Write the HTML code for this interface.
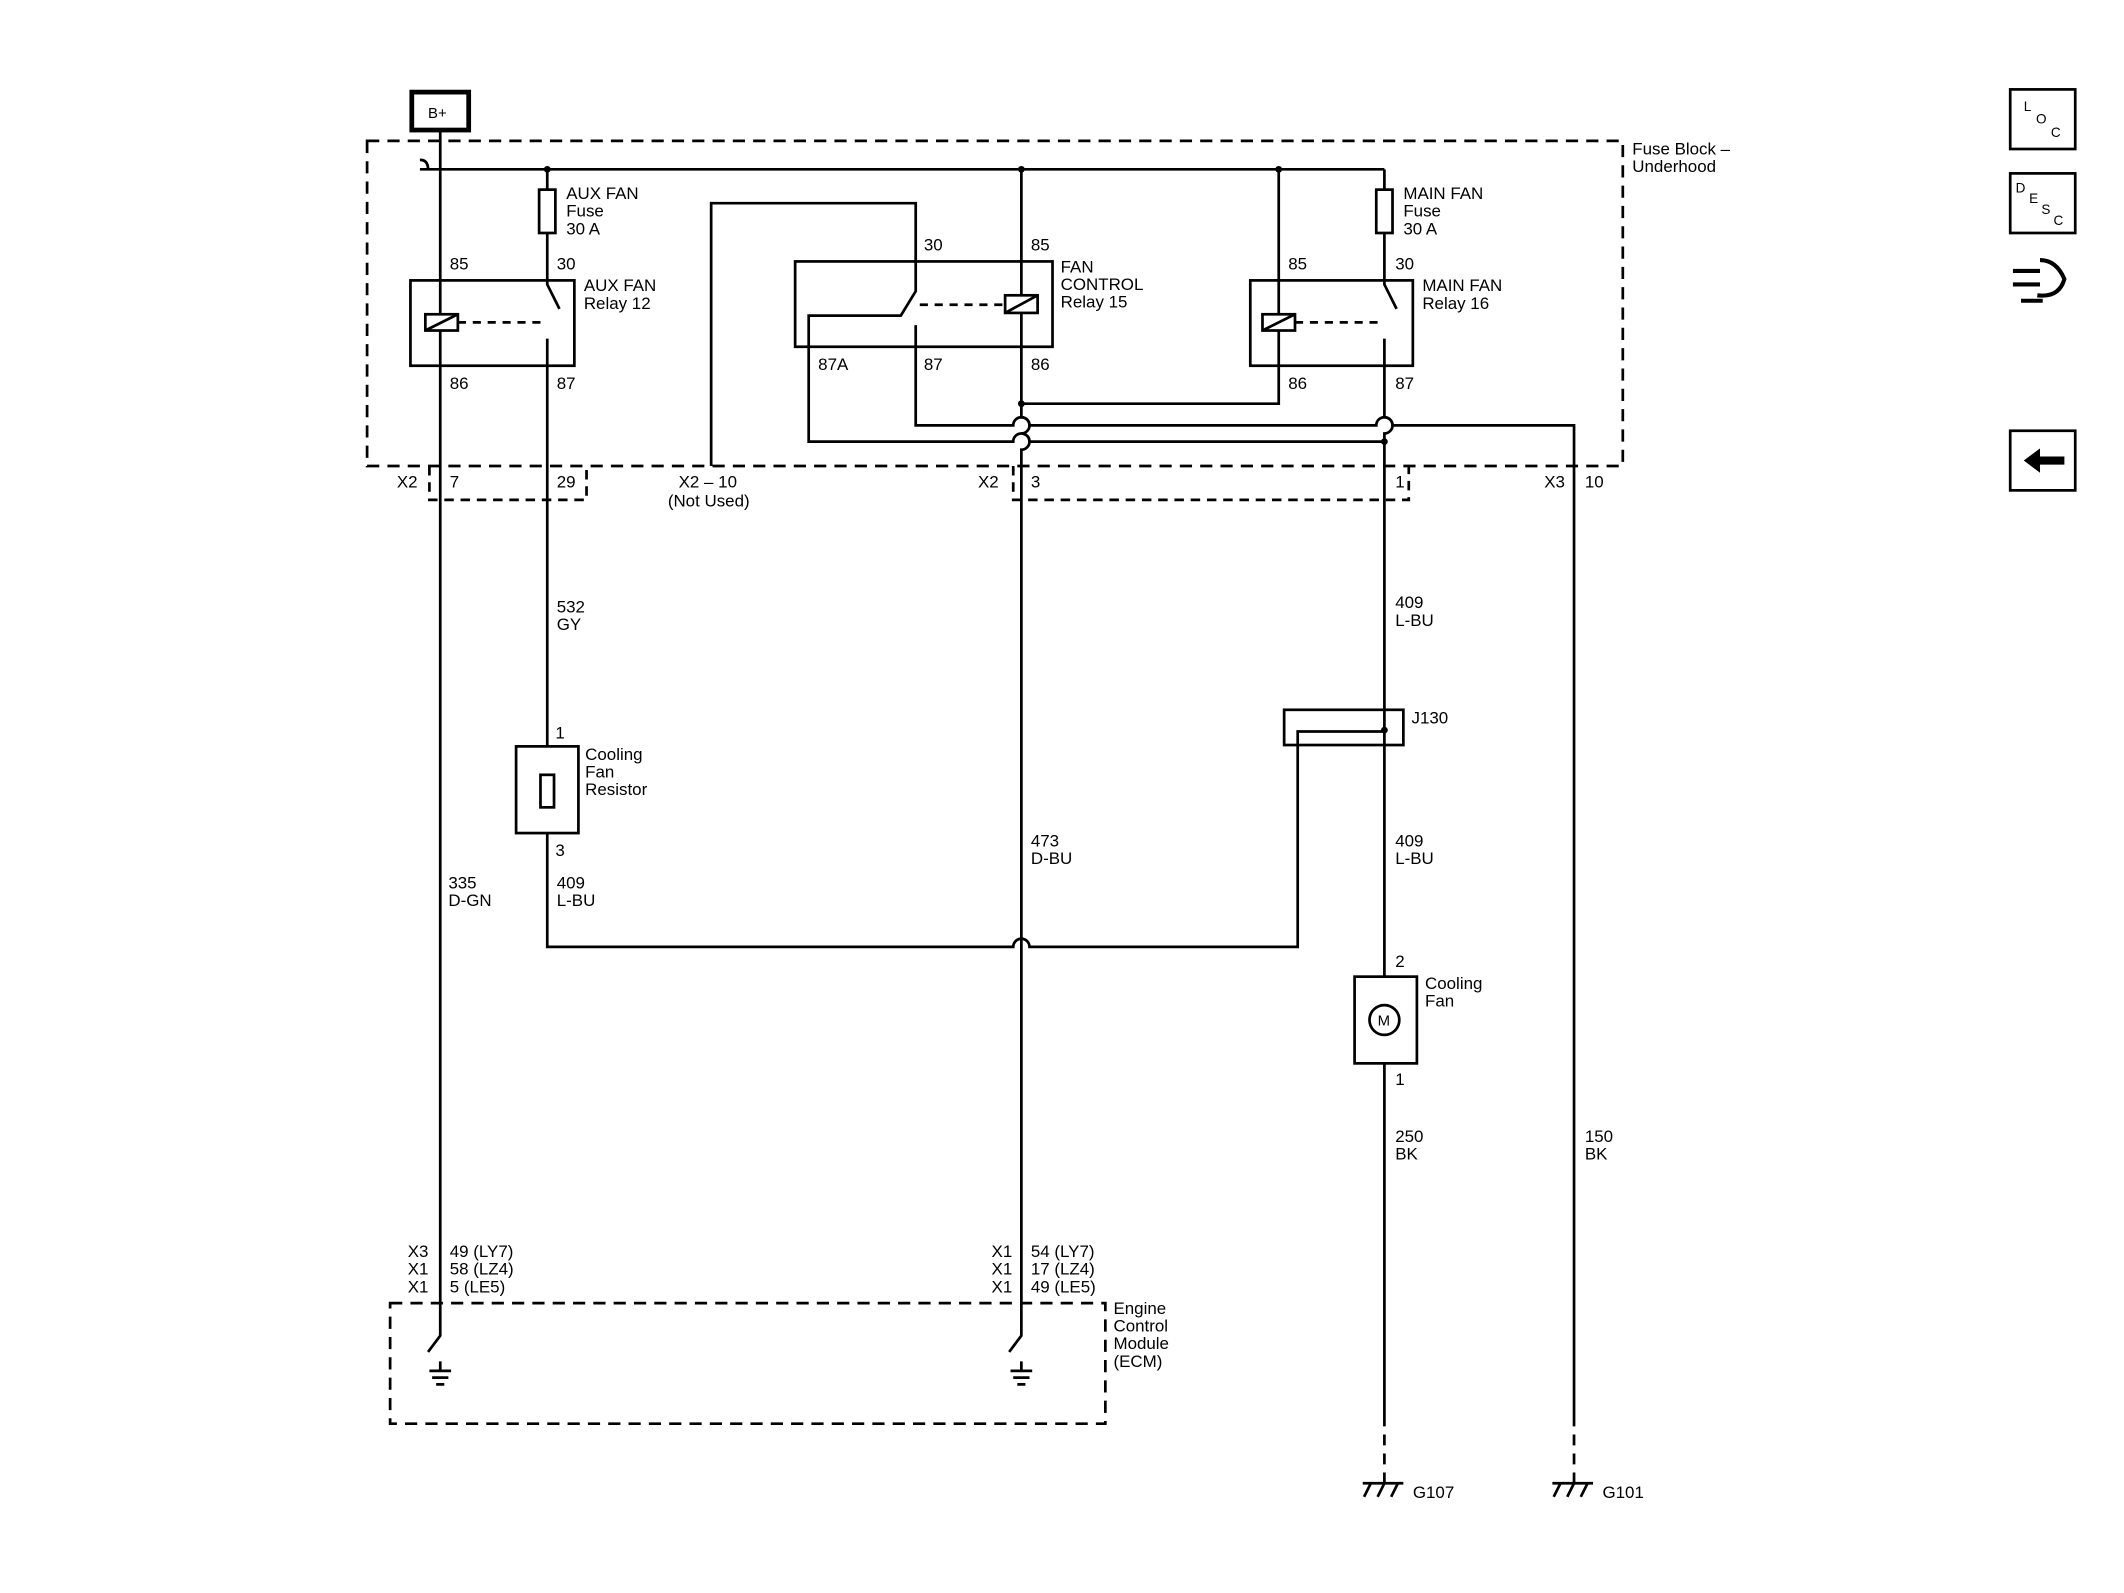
<!DOCTYPE html>
<html><head><meta charset="utf-8"><style>
html,body{margin:0;padding:0;background:#fff}
svg{display:block}
text{font-family:"Liberation Sans",sans-serif;font-size:12.5px;fill:#000}
</style></head><body>
<svg width="2124" height="1593" viewBox="0 0 1568 1176" preserveAspectRatio="none" xmlns="http://www.w3.org/2000/svg">
<g fill="none" stroke="#000" stroke-width="2">
<rect x="304" y="68" width="42" height="28" stroke-width="3.5"/>
<rect x="271" y="104" width="927" height="240" stroke-dasharray="9,6"/>
<path d="M310 125 H1022"/>
<path d="M310 118 q6 0 6 7"/>
<path d="M325 96 V986 L316 998"/>
<path d="M325 1005 V1012"/>
<path d="M404 125 V210 L413 228"/>
<path d="M404 250 V699 H748 a6 6 0 0 1 12 0 H958 V540 H1022"/>
<path d="M754 125 V218"/>
<path d="M754 231 V308 a6 6 0 0 1 0 12 V320 a6 6 0 0 1 0 12 V986 L745 998"/>
<path d="M754 1005 V1012"/>
<path d="M944 125 V232 M944 244 V298 H754"/>
<path d="M1022 125 V210 L1031 228"/>
<path d="M1022 250 V308 a6 6 0 0 1 0 12 V1045"/>
<path d="M525 344 V150 H676 V215 L665 233 H597 V326 H748 a6 6 0 0 1 12 0 H1022"/>
<path d="M676 240 V314 H748 a6 6 0 0 1 12 0 H1016 a6 6 0 0 1 12 0 H1162 V1045"/>
<path d="M1022 1045 V1095 M1162 1045 V1095" stroke-dasharray="8,6"/>
<rect x="398" y="140" width="12" height="32" fill="#fff"/>
<rect x="1016" y="140" width="12" height="32" fill="#fff"/>
<rect x="303" y="207" width="121" height="63"/>
<rect x="587" y="193" width="190" height="63"/>
<rect x="923" y="207" width="120" height="63"/>
<rect x="314" y="232" width="24" height="12" fill="#fff"/><path d="M314 244 L338 232"/>
<rect x="742" y="218" width="24" height="13" fill="#fff"/><path d="M742 231 L766 218"/>
<rect x="932" y="232" width="24" height="12" fill="#fff"/><path d="M932 244 L956 232"/>
<g stroke-dasharray="6,5"><path d="M338 238 H404 M679 225 H742 M956 238 H1022"/></g>
<path d="M317 344 V369 H433 V344 M748 344 V369 H1040 V344" stroke-dasharray="7,5"/>
<rect x="381" y="551" width="46" height="64" fill="#fff"/>
<rect x="399" y="572" width="10" height="24" fill="#fff"/>
<rect x="948" y="524" width="88" height="26"/>
<rect x="1000" y="721" width="46" height="64" fill="#fff"/>
<circle cx="1022" cy="753" r="11" fill="#fff"/>
<rect x="288" y="962" width="528" height="89" stroke-dasharray="9,6"/>
<path d="M317 1012 H333 M319 1017 H331 M322 1022 H328"/>
<path d="M746 1012 H762 M748 1017 H760 M751 1022 H757"/>
<path d="M1006 1095 H1036 M1012 1095 l-5 10 M1022 1095 l-5 10 M1032 1095 l-5 10"/>
<path d="M1146 1095 H1176 M1152 1095 l-5 10 M1162 1095 l-5 10 M1172 1095 l-5 10"/>
<rect x="1484" y="66" width="48" height="44"/>
<rect x="1484" y="128" width="48" height="44"/>
<rect x="1484" y="318" width="48" height="44"/>
<path d="M1486 200 h20 M1486 210 h20 M1492 222 h16 M1506 192 q12 0 18 14 q-4 14 -20 12" stroke-width="3"/>
</g>
<g fill="#000">
<circle cx="404" cy="125" r="2.5"/><circle cx="754" cy="125" r="2.5"/><circle cx="944" cy="125" r="2.5"/>
<circle cx="754" cy="298" r="2.5"/><circle cx="1022" cy="326" r="2.5"/><circle cx="1022" cy="539" r="2.5"/>
<path d="M1494 340 l12 -9 v6 h18 v6 h-18 v6 z"/>
</g>
<text x="316" y="87" style="font-size:11px">B+</text>
<text x="1205" y="114">Fuse Block –</text><text x="1205" y="127">Underhood</text>
<text x="418" y="147">AUX FAN</text><text x="418" y="160">Fuse</text><text x="418" y="173">30 A</text>
<text x="1036" y="147">MAIN FAN</text><text x="1036" y="160">Fuse</text><text x="1036" y="173">30 A</text>
<text x="332" y="199">85</text><text x="411" y="199">30</text><text x="332" y="287">86</text><text x="411" y="287">87</text>
<text x="431" y="215">AUX FAN</text><text x="431" y="228">Relay 12</text>
<text x="682" y="185">30</text><text x="761" y="185">85</text>
<text x="783" y="201">FAN</text><text x="783" y="214">CONTROL</text><text x="783" y="227">Relay 15</text>
<text x="604" y="273">87A</text><text x="682" y="273">87</text><text x="761" y="273">86</text>
<text x="951" y="199">85</text><text x="1030" y="199">30</text><text x="951" y="287">86</text><text x="1030" y="287">87</text>
<text x="1050" y="215">MAIN FAN</text><text x="1050" y="228">Relay 16</text>
<text x="293" y="360">X2</text><text x="332" y="360">7</text><text x="411" y="360">29</text>
<text x="501" y="360">X2 – 10</text><text x="493" y="374">(Not Used)</text>
<text x="722" y="360">X2</text><text x="761" y="360">3</text><text x="1030" y="360">1</text>
<text x="1140" y="360">X3</text><text x="1170" y="360">10</text>
<text x="411" y="452">532</text><text x="411" y="465">GY</text>
<text x="1030" y="449">409</text><text x="1030" y="462">L-BU</text>
<text x="1042" y="534">J130</text>
<text x="410" y="545">1</text><text x="432" y="561">Cooling</text><text x="432" y="574">Fan</text><text x="432" y="587">Resistor</text>
<text x="410" y="632">3</text>
<text x="761" y="625">473</text><text x="761" y="638">D-BU</text>
<text x="1030" y="625">409</text><text x="1030" y="638">L-BU</text>
<text x="331" y="656">335</text><text x="331" y="669">D-GN</text>
<text x="411" y="656">409</text><text x="411" y="669">L-BU</text>
<text x="1030" y="714">2</text><text x="1052" y="730">Cooling</text><text x="1052" y="743">Fan</text>
<text x="1017" y="757" style="font-size:11px">M</text>
<text x="1030" y="801">1</text>
<text x="1030" y="843">250</text><text x="1030" y="856">BK</text>
<text x="1170" y="843">150</text><text x="1170" y="856">BK</text>
<text x="301" y="928">X3</text><text x="301" y="941">X1</text><text x="301" y="954">X1</text>
<text x="332" y="928">49 (LY7)</text><text x="332" y="941">58 (LZ4)</text><text x="332" y="954">5 (LE5)</text>
<text x="732" y="928">X1</text><text x="732" y="941">X1</text><text x="732" y="954">X1</text>
<text x="761" y="928">54 (LY7)</text><text x="761" y="941">17 (LZ4)</text><text x="761" y="954">49 (LE5)</text>
<text x="822" y="970">Engine</text><text x="822" y="983">Control</text><text x="822" y="996">Module</text><text x="822" y="1009">(ECM)</text>
<text x="1043" y="1106">G107</text><text x="1183" y="1106">G101</text>
<text x="1494" y="82" style="font-size:10px">L</text><text x="1503" y="91" style="font-size:10px">O</text><text x="1514" y="101" style="font-size:10px">C</text>
<text x="1488" y="142" style="font-size:10px">D</text><text x="1498" y="150" style="font-size:10px">E</text><text x="1507" y="158" style="font-size:10px">S</text><text x="1516" y="166" style="font-size:10px">C</text>
</svg>
</body></html>
